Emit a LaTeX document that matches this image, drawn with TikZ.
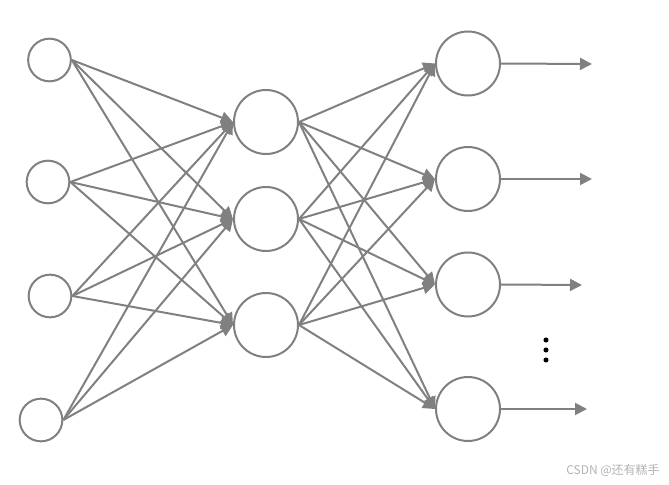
\documentclass[tikz,border=0pt]{standalone}
\usepackage{fontspec}
\usepackage{xcolor}
\usepackage{tikz}
\usetikzlibrary{arrows.meta,positioning}
\newfontfamily\cjkfont{Noto Sans CJK SC}
\definecolor{netgray}{RGB}{128,128,128}

\begin{document}
\begin{tikzpicture}[
      x=0.75pt, y=-0.75pt,
      neuron/.style={circle, draw=netgray, line width=1.5pt, fill=white,
          minimum size=32pt, inner sep=0pt},
      bigneuron/.style={neuron, minimum size=48pt},
      arrow/.style={-{Triangle[length=9pt,width=9pt]}, line width=1.5pt, draw=netgray},
      dot/.style={circle, fill=black, inner sep=0pt, minimum size=3.8pt}
    ]
    \useasboundingbox (0,0) rectangle (669,485);
    % input layer
    \node[neuron] (in1) at (49.5,60) {};
    \node[neuron] (in2) at (48,182) {};
    \node[neuron] (in3) at (50,296) {};
    \node[neuron] (in4) at (41,420) {};
    % hidden layer
    \node[bigneuron] (hid1) at (266,122) {};
    \node[bigneuron] (hid2) at (266,219) {};
    \node[bigneuron] (hid3) at (266,325) {};
    % output layer
    \node[bigneuron] (out1) at (468,63.5) {};
    \node[bigneuron] (out2) at (468,179) {};
    \node[bigneuron] (out3) at (468,284.5) {};
    \node[bigneuron] (out4) at (468,409) {};
    \coordinate (end1) at (592,64);
    \coordinate (end2) at (592,179);
    \coordinate (end3) at (582,285);
    \coordinate (end4) at (587,409);
    % vertical dots
    \node[dot] (dotA) at (546,340) {};
    \node[dot] (dotB) at (546,350) {};
    \node[dot] (dotC) at (546,360) {};
    % input -> hidden
    \draw[arrow] (in1.east) -- (hid1.west);
    \draw[arrow] (in1.east) -- (hid2.west);
    \draw[arrow] (in1.east) -- (hid3.west);
    \draw[arrow] (in2.east) -- (hid1.west);
    \draw[arrow] (in2.east) -- (hid2.west);
    \draw[arrow] (in2.east) -- (hid3.west);
    \draw[arrow] (in3.east) -- (hid1.west);
    \draw[arrow] (in3.east) -- (hid2.west);
    \draw[arrow] (in3.east) -- (hid3.west);
    \draw[arrow] (in4.east) -- (hid1.west);
    \draw[arrow] (in4.east) -- (hid2.west);
    \draw[arrow] (in4.east) -- (hid3.west);
    % hidden -> output
    \draw[arrow] (hid1.east) -- (out1.west);
    \draw[arrow] (hid1.east) -- (out2.west);
    \draw[arrow] (hid1.east) -- (out3.west);
    \draw[arrow] (hid1.east) -- (out4.west);
    \draw[arrow] (hid2.east) -- (out1.west);
    \draw[arrow] (hid2.east) -- (out2.west);
    \draw[arrow] (hid2.east) -- (out3.west);
    \draw[arrow] (hid2.east) -- (out4.west);
    \draw[arrow] (hid3.east) -- (out1.west);
    \draw[arrow] (hid3.east) -- (out2.west);
    \draw[arrow] (hid3.east) -- (out3.west);
    \draw[arrow] (hid3.east) -- (out4.west);
    % outputs
    \draw[arrow] (out1.east) -- (end1);
    \draw[arrow] (out2.east) -- (end2);
    \draw[arrow] (out3.east) -- (end3);
    \draw[arrow] (out4.east) -- (end4);
    % watermark
    \node[anchor=east, text=black!30, font=\cjkfont\fontsize{9}{10}\selectfont,
        inner sep=0pt] (mark) at (660,470) {CSDN @还有糕手};
  \end{tikzpicture}
\end{document}
